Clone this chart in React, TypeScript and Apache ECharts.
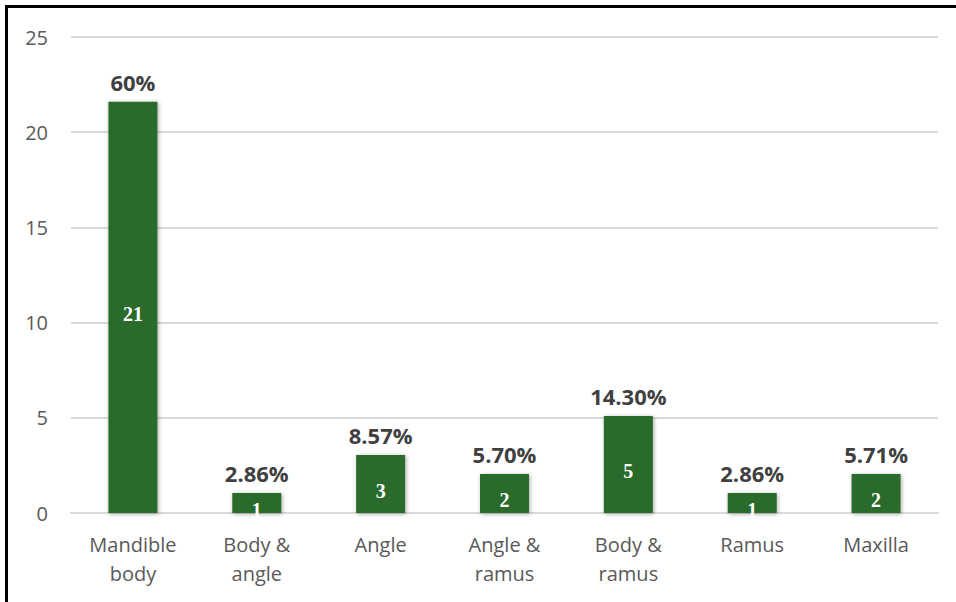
import React, { useEffect, useRef } from "react";
import * as echarts from "echarts";

const categories = ["Mandible\nbody", "Body &\nangle", "Angle", "Angle &\nramus", "Body &\nramus", "Ramus", "Maxilla"];
const barHeights = [21.6, 1.05, 3.05, 2.05, 5.1, 1.05, 2.05];
const counts = [21, 1, 3, 2, 5, 1, 2];
const percents = ["60%", "2.86%", "8.57%", "5.70%", "14.30%", "2.86%", "5.71%"];

export default function App() {
  const ref = useRef<HTMLDivElement>(null);
  useEffect(() => {
    const chart = echarts.init(ref.current!, null, { renderer: "svg" });
    chart.setOption({
      animation: false,
      backgroundColor: "#ffffff",
      grid: { left: 71, right: 18, top: 37, bottom: 89 },
      xAxis: {
        type: "category",
        data: categories,
        axisTick: { show: false },
        axisLine: { lineStyle: { color: "#d9d9d9", width: 2 } },
        axisLabel: {
          color: "#595959",
          fontFamily: "Open Sans",
          fontSize: 20,
          lineHeight: 29,
          margin: 17,
          interval: 0,
        },
      },
      yAxis: {
        type: "value",
        min: 0,
        max: 25,
        interval: 5,
        axisLine: { show: false },
        axisTick: { show: false },
        splitLine: { lineStyle: { color: "#d9d9d9", width: 2 } },
        axisLabel: {
          color: "#595959",
          fontFamily: "Open Sans",
          fontSize: 20,
          margin: 23,
        },
      },
      series: [
        {
          type: "bar",
          data: barHeights,
          barWidth: 49,
          itemStyle: {
            color: "#2c6b2a",
            shadowBlur: 4,
            shadowColor: "rgba(0,0,0,0.35)",
            shadowOffsetX: 1,
            shadowOffsetY: 1,
          },
          label: {
            show: true,
            position: "inside",
            offset: [0, 7],
            color: "#ffffff",
            fontFamily: "Liberation Serif",
            fontWeight: "bold",
            fontSize: 20,
            formatter: (p: any) => String(counts[p.dataIndex]),
          },
          z: 2,
        },
        {
          type: "bar",
          data: barHeights,
          barWidth: 49,
          barGap: "-100%",
          itemStyle: { color: "rgba(0,0,0,0)" },
          label: {
            show: true,
            position: "top",
            distance: 9,
            color: "#404040",
            fontFamily: "Open Sans",
            fontWeight: "bold",
            fontSize: 22,
            formatter: (p: any) => percents[p.dataIndex],
          },
          z: 3,
        },
      ],
      graphic: [
        { type: "rect", left: 5, top: 5, shape: { width: 3, height: 597 }, style: { fill: "#000" } },
        { type: "rect", left: 5, top: 5, shape: { width: 951, height: 3 }, style: { fill: "#000" } },
      ],
    });
    return () => chart.dispose();
  }, []);
  return <div ref={ref} style={{ position: "fixed", left: 0, top: 0, width: 956, height: 602 }} />;
}
